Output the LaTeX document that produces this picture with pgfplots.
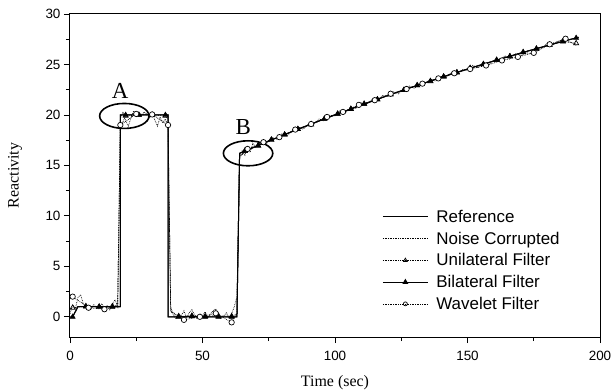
\documentclass[border=0pt]{standalone}
\usepackage{pgfplots}
\pgfplotsset{compat=1.18}
\usepackage{fontspec}
\setmainfont{Liberation Sans}
\newfontfamily\timesfont{Liberation Serif}
\begin{document}
\begin{tikzpicture}
\useasboundingbox (-70bp,-55bp) rectangle (542bp,337bp);
\begin{axis}[
  at={(0,0)}, anchor=south west,
  scale only axis, width=530bp, height=323bp,
  xmin=0, xmax=200, ymin=-2, ymax=30,
  xtick={0,50,...,200}, ytick={0,5,...,30},
  minor x tick num=1, minor y tick num=1,
  tick align=outside, xtick pos=left, ytick pos=left,
  major tick length=6bp, minor tick length=4bp,
  axis line style={line width=1bp},
  every tick/.style={black, line width=0.8bp},
  tick label style={font=\fontsize{13.5}{15}\selectfont},
  xticklabel style={yshift=-5bp},
  /pgf/number format/assume math mode=true,
  xlabel={\timesfont Time (sec)}, ylabel={\timesfont Reactivity},
  label style={font=\fontsize{16}{18}\selectfont},
  xlabel style={at={(axis description cs:0.5,-0.1424)}, anchor=center},
  ylabel style={at={(axis description cs:-0.1038,0.5)}, anchor=center},
  clip=false,
  legend cell align=left,
  legend image code/.code={\draw[mark repeat=2,mark phase=2,#1] plot coordinates {(0bp,0bp)(22.5bp,0bp)(45bp,0bp)};},
  legend style={draw=none, fill=none, at={(0.589,0.40)}, anchor=north west,
    font=\fontsize{17}{20}\selectfont, row sep=4bp, inner sep=0pt,
    /tikz/every odd column/.append style={column sep=6bp}},
]
\addlegendimage{black, line width=1bp}
\addlegendentry{Reference}
\addlegendimage{black, line width=0.7bp, densely dotted}
\addlegendentry{Noise Corrupted}
\addlegendimage{black, line width=0.7bp, densely dotted, mark=triangle, mark size=2.2bp, mark options={solid}}
\addlegendentry{Unilateral Filter}
\addlegendimage{black, line width=1bp, mark=triangle*, mark size=2.4bp}
\addlegendentry{Bilateral Filter}
\addlegendimage{black, line width=0.7bp, densely dotted, mark=o, mark size=2bp, mark options={solid, fill=white}}
\addlegendentry{Wavelet Filter}

% Reference
\addplot[forget plot, black, line width=1bp, mark=none] coordinates {
(0,0)(1,0)(3,1)(19,1)(19,20)(37,20)(37,0)(63,0)(64,16.2)(68,16.64)(72,17.08)(76,17.52)(80,17.95)(84,18.37)(88,18.79)(92,19.20)(96,19.60)(100,20.01)(104,20.40)(108,20.79)(112,21.17)(116,21.55)(120,21.93)(124,22.29)(128,22.66)(136,23.36)(144,24.05)(152,24.71)(160,25.35)(168,25.97)(176,26.57)(184,27.15)(192,27.70)};

% Noise corrupted
\addplot[forget plot, black, line width=0.7bp, densely dotted, mark=none] coordinates {
(0,0.3)(1,1.2)(2,0.8)(3,1.9)(4,2.2)(5,1.3)(6,0.9)(7,1.1)(8,0.8)(9,1.2)(10,0.9)(11,1.0)(12,1.3)(13,0.8)(14,1.1)(15,0.7)(16,1.2)(17,1.7)(18,1.0)
(19,19.6)(20,20.3)(21,19.4)(22,18.9)(23,19.7)(24,20.4)(25,19.8)(26,20.2)(27,19.9)(28,20.3)(29,20.1)(30,19.7)(31,20.2)(32,19.5)(33,18.9)(34,19.8)(35,19.2)(36,19.6)(37,18.8)
(38,1.0)(39,0.2)(40,-0.2)(41,0.3)(42,0.1)(43,0.6)(44,-0.1)(45,0.4)(46,0.7)(47,0.2)(48,-0.2)(49,0.3)(50,0.1)(51,0.5)(52,-0.1)(53,0.3)(54,0.6)(55,0.8)(56,0.2)(57,-0.2)(58,0.1)(59,0.4)(60,-0.1)(61,0.3)(62,1.0)(63,2.0)
(64,15.8)(65,16.5)(66,16.0)(67,16.9)(68,16.3)(69,17.2)(70,16.8)(72,17.3)(74,17.1)(76,17.8)(78,17.6)(80,18.15)(82,17.96)(84,18.47)(86,18.83)(88,18.59)(90,19.09)(92,19.1)(94,19.6)(96,19.4)(98,19.96)(100,19.91)(102,20.45)(104,20.2)(106,20.7)(108,20.64)(110,21.18)(112,21.07)(114,21.51)(116,21.35)(118,21.94)(120,21.83)(122,22.31)(124,22.09)(126,22.58)(128,22.86)(130,22.63)(132,23.16)(134,23.09)(136,23.56)(138,23.34)(140,23.81)(142,23.73)(144,24.25)(146,24.02)(148,24.48)(150,24.45)(152,24.91)(154,24.67)(156,25.19)(158,24.95)(160,25.45)(162,25.31)(164,25.87)(166,25.52)(168,26.07)(170,25.82)(172,26.17)(174,26.07)(176,26.67)(178,26.62)(180,27.06)(182,26.9)(184,27.25)(186,27.49)(188,27.32)(190,27.06)(191,26.9)};

% Unilateral filter: line
\addplot[forget plot, black, line width=0.7bp, densely dotted, mark=none] coordinates {
(1,0.9)(6,1.05)(11,1.0)(16,1.05)(18,1.2)(19,18.8)(21,19.9)(26,20.0)(31,20.0)(36,19.9)(37,19.5)(38,0.6)(41,0.05)(46,0.1)(51,0.05)(56,0.1)(61,0.05)(63,0.3)(64,15.9)(66,16.45)(71,16.95)(76,17.55)(81,18.05)(86,18.6)(91,19.05)(96,19.62)(101,20.12)(106,20.58)(111,21.1)(116,21.53)(121,22.05)(126,22.46)(131,22.94)(136,23.34)(141,23.8)(146,24.2)(151,24.65)(156,25.02)(161,25.45)(166,25.8)(171,26.22)(176,26.55)(181,26.95)(186,27.27)(191,27.1)};
% Unilateral filter: marks
\addplot[forget plot, black, only marks, mark=triangle, mark size=2.9bp, mark options={solid, line width=0.7bp}] coordinates {
(1,0.9)(6,1.05)(11,1.0)(16,1.05)(21,19.9)(26,20.0)(31,20.0)(36,19.9)(41,0.05)(46,0.1)(51,0.05)(56,0.1)(61,0.05)(66,16.45)(71,16.95)(76,17.55)(81,18.05)(86,18.6)(91,19.05)(96,19.62)(101,20.12)(106,20.58)(111,21.1)(116,21.53)(121,22.05)(126,22.46)(131,22.94)(136,23.34)(141,23.8)(146,24.2)(151,24.65)(156,25.02)(161,25.45)(166,25.8)(171,26.22)(176,26.55)(181,26.95)(186,27.27)(191,27.1)};

% Bilateral filter: line
\addplot[forget plot, black, line width=1bp, mark=none] coordinates {
(1,0)(3,1)(6,1.0)(11,1.0)(16,0.97)(19,1)(19,20)(21,20)(26,20)(31,20)(36,20)(37,20)(37,0)(41,0)(46,0.05)(51,0)(56,0)(61,0)(63,0)(64,16.2)(66,16.42)(71,16.97)(76,17.52)(81,18.05)(86,18.58)(91,19.10)(96,19.60)(101,20.10)(106,20.60)(111,21.08)(116,21.55)(121,22.02)(126,22.48)(131,22.92)(136,23.36)(141,23.79)(146,24.22)(151,24.63)(156,25.04)(161,25.43)(166,25.82)(171,26.20)(176,26.57)(181,26.93)(186,27.29)(191,27.63)};
% Bilateral filter: marks
\addplot[forget plot, black, only marks, mark=triangle*, mark size=3bp] coordinates {
(1,0)(6,1.0)(11,1.0)(16,0.97)(21,20)(26,20)(31,20)(36,20)(41,0)(46,0.05)(51,0)(56,0)(61,0)(66,16.42)(71,16.97)(76,17.52)(81,18.05)(86,18.58)(91,19.10)(96,19.60)(101,20.10)(106,20.60)(111,21.08)(116,21.55)(121,22.02)(126,22.48)(131,22.92)(136,23.36)(141,23.79)(146,24.22)(151,24.63)(156,25.04)(161,25.43)(166,25.82)(171,26.20)(176,26.57)(181,26.93)(186,27.29)(191,27.63)};

% Wavelet filter: line
\addplot[forget plot, black, line width=0.7bp, densely dotted, mark=none] coordinates {
(1,2.0)(7,0.9)(13,0.75)(18,1.1)(19,19.0)(25,20.1)(31,20.05)(37,19.0)(38,0.5)(43,-0.3)(49,0.0)(55,0.35)(61,-0.55)(63,0.3)(64,15.8)(67,16.63)(73,17.3)(79,17.8)(85,18.55)(91,19.10)(97,19.8)(103,20.3)(109,21.0)(115,21.46)(121,22.1)(127,22.57)(133,23.10)(139,23.62)(145,24.13)(151,24.55)(157,24.9)(163,25.4)(169,25.75)(175,26.15)(181,27.0)(187,27.55)};
% Wavelet filter: marks
\addplot[forget plot, black, only marks, mark=*, mark size=2.7bp, mark options={fill=white, line width=0.7bp}] coordinates {
(1,2.0)(7,0.9)(13,0.75)(19,19.0)(25,20.1)(31,20.05)(37,19.0)(43,-0.3)(49,0.0)(55,0.35)(61,-0.55)(67,16.63)(73,17.3)(79,17.8)(85,18.55)(91,19.10)(97,19.8)(103,20.3)(109,21.0)(115,21.46)(121,22.1)(127,22.57)(133,23.10)(139,23.62)(145,24.13)(151,24.55)(157,24.9)(163,25.4)(169,25.75)(175,26.15)(181,27.0)(187,27.55)};

% Annotations
\draw[line width=1.6bp] (axis cs:20.5,19.9) ellipse [x radius=24.7bp, y radius=12.5bp];
\draw[line width=1.6bp] (axis cs:67.2,16.2) ellipse [x radius=24.7bp, y radius=12.5bp];
\node[font=\timesfont\fontsize{23}{25}\selectfont] at (axis cs:18.9,22.4) {A};
\node[font=\timesfont\fontsize{23}{25}\selectfont] at (axis cs:65.4,18.8) {B};
\end{axis}
\end{tikzpicture}
\end{document}
